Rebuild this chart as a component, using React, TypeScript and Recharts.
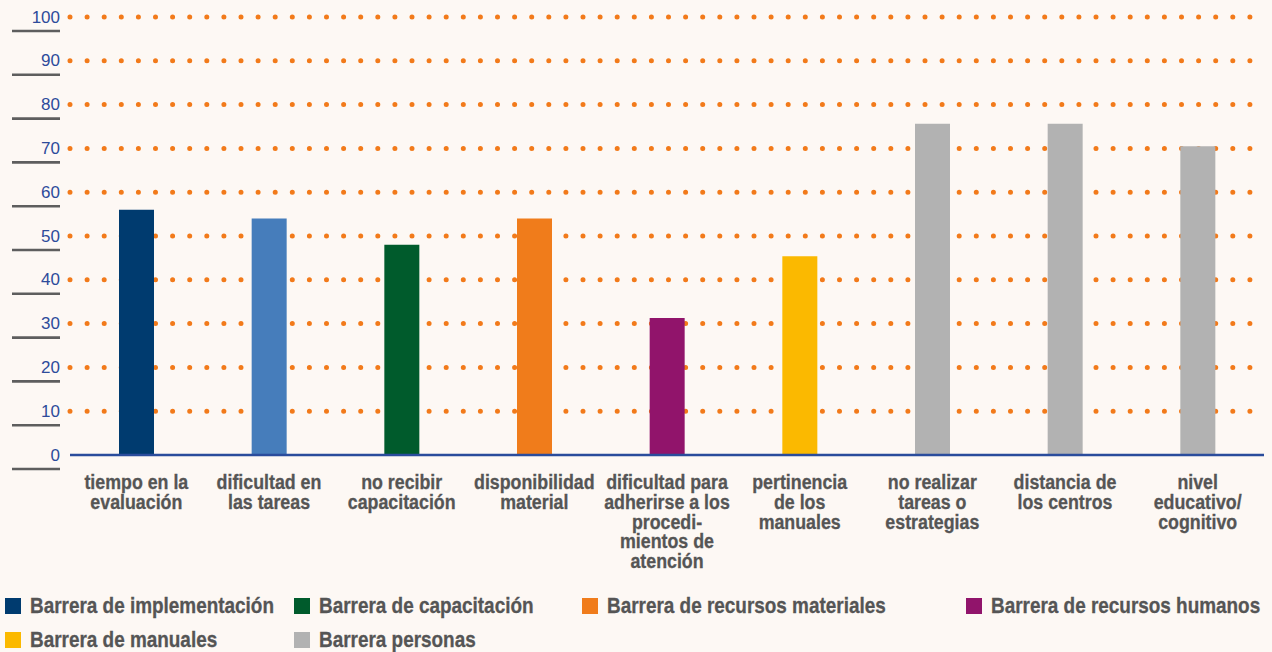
import React from "react";
import { BarChart, Bar, XAxis, YAxis, CartesianGrid, Cell } from "recharts";

const categories = [
  "tiempo en la evaluación",
  "dificultad en las tareas",
  "no recibir capacitación",
  "disponibilidad material",
  "dificultad para adherirse a los procedimientos de atención",
  "pertinencia de los manuales",
  "no realizar tareas o estrategias",
  "distancia de los centros",
  "nivel educativo/cognitivo",
];

const categoryLines = [
  ["tiempo en la", "evaluación"],
  ["dificultad en", "las tareas"],
  ["no recibir", "capacitación"],
  ["disponibilidad", "material"],
  ["dificultad para", "adherirse a los", "procedi-", "mientos de", "atención"],
  ["pertinencia", "de los", "manuales"],
  ["no realizar", "tareas o", "estrategias"],
  ["distancia de", "los centros"],
  ["nivel", "educativo/", "cognitivo"],
];

const values = [56, 54, 48, 54, 31.3, 45.4, 75.6, 75.6, 70.5];

const barColors = [
  "#003B6F",
  "#467DBB",
  "#005B2C",
  "#F07C1B",
  "#91146B",
  "#FBB900",
  "#B2B2B2",
  "#B2B2B2",
  "#B2B2B2",
];

const yTicks = [0, 10, 20, 30, 40, 50, 60, 70, 80, 90, 100];

const legendLabels = [
  "Barrera de implementación",
  "Barrera de capacitación",
  "Barrera de recursos materiales",
  "Barrera de recursos humanos",
  "Barrera de manuales",
  "Barrera personas",
];
const legendColors = ["#003B6F", "#005B2C", "#F07C1B", "#91146B", "#FBB900", "#B2B2B2"];

const data = categories.map((c, i) => ({ name: c, value: values[i], idx: i }));

const sansBold = '"Liberation Sans", Arial, Helvetica, sans-serif';

const YTick = (props: any) => {
  const { y, payload } = props;
  return (
    <g>
      <text
        x={60}
        y={y}
        textAnchor="end"
        dominantBaseline="central"
        fill="#2D4B9B"
        fontSize={17}
        fontFamily='"Liberation Sans", Arial, sans-serif'
      >
        {payload.value}
      </text>
      <line x1={12} x2={60} y1={y + 14} y2={y + 14} stroke="#5E5E5E" strokeWidth={2.6} />
    </g>
  );
};

const XTick = (props: any) => {
  const { x, y, payload } = props;
  const idx = categories.indexOf(payload.value);
  const lines = categoryLines[idx] || [payload.value];
  return (
    <g transform={`translate(${x},${y}) scale(0.89,1)`}>
      <text
        x={0}
        y={0}
        textAnchor="middle"
        fill="#555555"
        fontSize={20}
        fontWeight="bold"
        fontFamily={sansBold}
        stroke="#555555"
        strokeWidth={0.3}
      >
        {lines.map((l, i) => (
          <tspan key={i} x={0} dy={i === 0 ? 26 : 19.8}>
            {l}
          </tspan>
        ))}
      </text>
    </g>
  );
};

const legendCols = [5, 294, 582, 966];

export default function App() {
  return (
    <div style={{ position: "relative", width: 1272, height: 652, background: "#FDF8F4" }}>
      <style>{`body{margin:0;background:#FDF8F4}`}</style>
      <BarChart
        width={1272}
        height={652}
        data={data}
        margin={{ top: 17, right: 8, bottom: 0, left: 0 }}
        barCategoryGap={0}
      >
        <CartesianGrid
          vertical={false}
          stroke="#F27A1A"
          strokeWidth={5}
          strokeDasharray="0 17.1"
          strokeLinecap="round"
          horizontalValues={[10, 20, 30, 40, 50, 60, 70, 80, 90, 100]}
        />
        <XAxis
          dataKey="name"
          interval={0}
          height={197}
          tickLine={false}
          axisLine={{ stroke: "#2A4C9C", strokeWidth: 2.5 }}
          tick={<XTick />}
        />
        <YAxis
          domain={[0, 100]}
          ticks={yTicks}
          interval={0}
          width={70}
          axisLine={false}
          tickLine={false}
          tick={<YTick />}
        />
        <Bar dataKey="value" barSize={35} isAnimationActive={false}>
          {data.map((d) => (
            <Cell key={d.idx} fill={barColors[d.idx]} />
          ))}
        </Bar>
      </BarChart>
      {legendLabels.map((label, i) => {
        const row = i < 4 ? 0 : 1;
        const col = i < 4 ? i : i - 4;
        return (
          <div
            key={label}
            style={{
              position: "absolute",
              left: legendCols[col],
              top: row === 0 ? 594 : 628,
              display: "flex",
              alignItems: "center",
              fontFamily: sansBold,
              fontWeight: "bold",
              fontSize: 22,
              color: "#555555",
              whiteSpace: "nowrap",
              height: 24,
            }}
          >
            <span
              style={{
                display: "inline-block",
                width: 16,
                height: 16,
                background: legendColors[i],
                marginRight: 9,
                flex: "none",
              }}
            />
            <span
              style={{
                display: "inline-block",
                transform: "scaleX(0.86)",
                transformOrigin: "left center",
                WebkitTextStroke: "0.3px #555555",
              }}
            >
              {label}
            </span>
          </div>
        );
      })}
    </div>
  );
}
